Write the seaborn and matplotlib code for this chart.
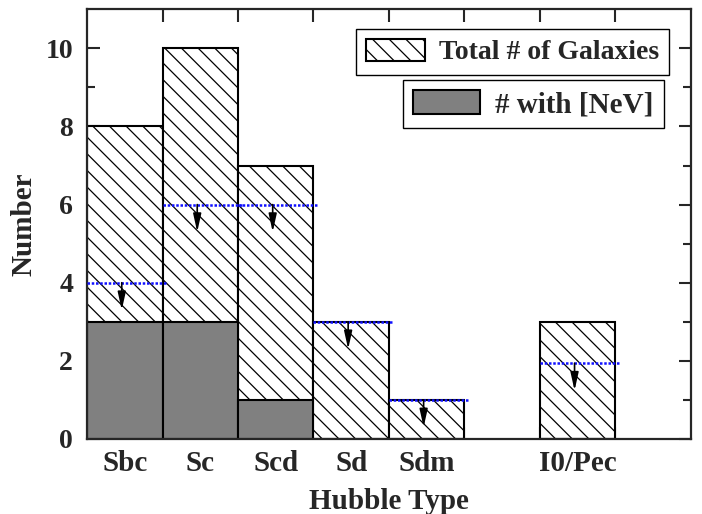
import pandas as pd
import matplotlib.pyplot as plt
import seaborn as sns

# data
hubble_types = ["Sbc", "Sc", "Scd", "Sd", "Sdm", "I0/Pec"]
total_galaxies = [8, 10, 7, 3, 1, 3]
with_nev = [3, 3, 1, 0, 0, 0]
upper_limits = [4, 6, 6, 3, 1, 1.94]

# empty slot between Sdm and I0/Pec
order = ["Sbc", "Sc", "Scd", "Sd", "Sdm", " ", "I0/Pec"]

df = pd.DataFrame({"type": hubble_types, "total": total_galaxies,
                   "nev": with_nev, "limit": upper_limits})

sns.set_style("ticks")
plt.rcParams["font.family"] = ["Liberation Serif", "DejaVu Serif"]
plt.rcParams["font.weight"] = "bold"
plt.rcParams["hatch.linewidth"] = 0.9

fig, ax = plt.subplots(figsize=(7.02, 5.14), dpi=100)
fig.subplots_adjust(left=0.124, right=0.984, top=0.982, bottom=0.146)

sns.barplot(data=df, x="type", y="total", order=order, color="white",
            saturation=1, width=1, edgecolor="black", linewidth=1.5,
            hatch="\\\\", errorbar=None, ax=ax)
sns.barplot(data=df, x="type", y="nev", order=order, color="#808080",
            saturation=1, width=1, edgecolor="black", linewidth=1.5,
            errorbar=None, ax=ax)

## upper limits: blue dotted line + down arrow
for name, lim in zip(df["type"], df["limit"]):
    i = order.index(name)
    ax.hlines(lim, i - 0.5, i + 0.55, colors="#1010ff", linestyles=(0, (1.0, 0.7)),
              lw=1.8, zorder=5)
    ax.annotate("", xy=(i - 0.04, lim - 0.7), xytext=(i - 0.04, lim),
                arrowprops=dict(arrowstyle="-|>,head_length=0.9,head_width=0.2",
                                color="black", lw=1.2, mutation_scale=12,
                                shrinkA=0, shrinkB=0),
                zorder=6)

ax.set_xlim(-0.5, 7.5)
ax.set_ylim(0, 11)
ax.set_xticks(range(len(order)))
ax.set_xticklabels(order)
ax.tick_params(axis="x", which="major", length=0, labelsize=21, pad=8)
ax.set_xticks([k + 0.5 for k in range(7)], minor=True)
ax.tick_params(axis="x", which="minor", direction="in", length=9, width=1.5,
               top=True, bottom=True)
ax.set_yticks(range(0, 11, 2))
ax.set_yticks(range(1, 11, 2), minor=True)
ax.tick_params(axis="y", which="both", direction="in", right=True, labelsize=20,
               width=1.5, pad=10)
ax.tick_params(axis="y", which="major", length=9)
ax.tick_params(axis="y", which="minor", length=6)
for s in ax.spines.values():
    s.set_linewidth(1.6)
    s.set_visible(True)

ax.set_xlabel("Hubble Type", fontsize=21, fontweight="bold", labelpad=8)
ax.set_ylabel("Number", fontsize=21, fontweight="bold", labelpad=6)

## two separate legend boxes
h_total = ax.containers[0].patches[0]
h_nev = ax.containers[1].patches[0]
leg_kw = dict(loc="upper right", fancybox=False, framealpha=1, edgecolor="black",
              handleheight=0.85, handletextpad=0.5, borderpad=0.35, borderaxespad=0)
leg1 = ax.legend([h_total], ["Total # of Galaxies"], bbox_to_anchor=(0.964, 0.954),
                 fontsize=20, handlelength=2.15, **leg_kw)
leg1.get_frame().set_linewidth(1.0)
ax.add_artist(leg1)
leg2 = ax.legend([h_nev], ["# with [NeV]"], bbox_to_anchor=(0.955, 0.835),
                 fontsize=21, handlelength=2.3, **leg_kw)
leg2.get_frame().set_linewidth(1.0)

plt.savefig("out.png", dpi=100)
